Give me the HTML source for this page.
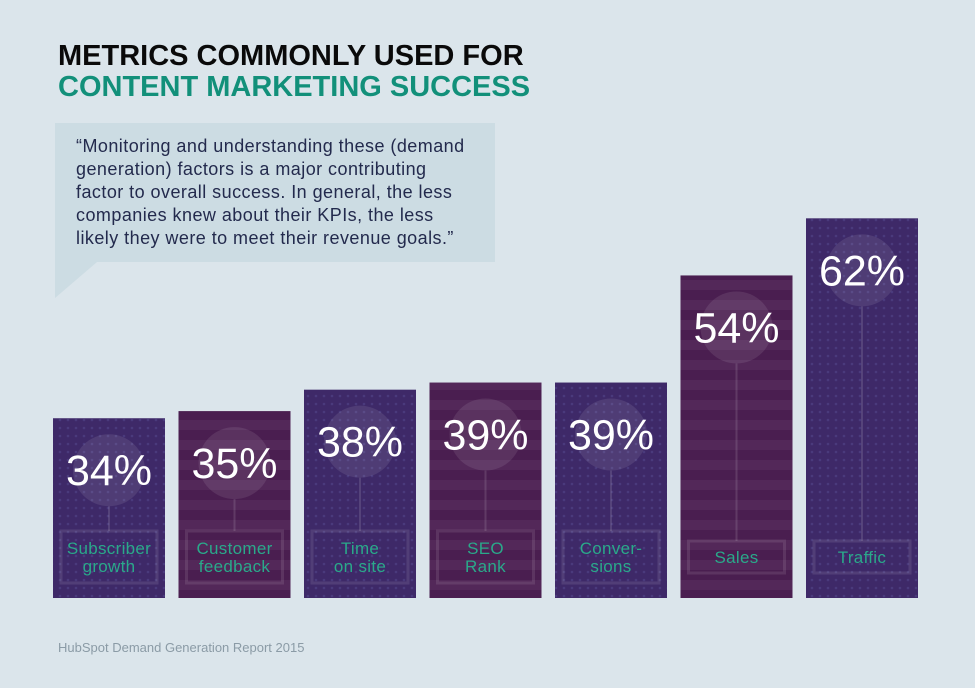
<!DOCTYPE html>
<html><head><meta charset="utf-8"><style>
body{margin:0;background:#dbe5eb;}
svg{display:block;font-family:"Liberation Sans",sans-serif;}
</style></head><body>
<svg id="chart" width="975" height="688" viewBox="0 0 975 688">
<defs>
<pattern id="dots" width="8" height="8" patternUnits="userSpaceOnUse"><rect width="8" height="8" fill="#3e2968"/><circle cx="4" cy="4" r="1.3" fill="#4a3a7c"/></pattern>
<pattern id="stripes" width="10" height="20" patternUnits="userSpaceOnUse"><rect width="10" height="20" fill="#4a1e50"/><rect width="10" height="10" fill="#532859"/></pattern>
</defs>
<rect width="975" height="688" fill="#dbe5eb"/>
<text x="58" y="65" font-size="29" font-weight="bold" fill="#0a0a0a">METRICS COMMONLY USED FOR</text>
<text x="58" y="96" font-size="29" font-weight="bold" fill="#12907a">CONTENT MARKETING SUCCESS</text>
<g>
<rect x="55" y="123" width="440" height="139" fill="#ccdce3"/>
<polygon points="55,262 97,262 55,298" fill="#ccdce3"/>
<g font-size="18" letter-spacing="0.45" fill="#232a4d">
<text x="76" y="152">“Monitoring and understanding these (demand</text>
<text x="76" y="175">generation) factors is a major contributing</text>
<text x="76" y="198">factor to overall success. In general, the less</text>
<text x="76" y="221">companies knew about their KPIs, the less</text>
<text x="76" y="244">likely they were to meet their revenue goals.”</text>
</g></g>
<g id="bars"></g>
<text x="58" y="652" font-size="13" fill="#8b9ba6">HubSpot Demand Generation Report 2015</text>
</svg>
<script>
const categories=[["Subscriber","growth"],["Customer","feedback"],["Time","on site"],["SEO","Rank"],["Conver-","sions"],["Sales"],["Traffic"]];
const values=[34,35,38,39,39,54,62];
const NS="http://www.w3.org/2000/svg";
const g=document.getElementById('bars');
const base=598;
function y(v){return 661-7.14*v;}
function x(i){return 53+i*125.5;}
function mk(t,a,p){const e=document.createElementNS(NS,t);for(const k in a)e.setAttribute(k,a[k]);p.appendChild(e);return e;}
values.forEach((v,i)=>{
 const bx=x(i),top=y(v),w=112,cx=bx+w/2;
 const grp=mk('g',{},g);
 
 
 mk('rect',{x:bx,y:top,width:w,height:base-top,fill:i%2?'url(#stripes)':'url(#dots)'},grp);
 const cy=top+52;
 mk('circle',{cx:cx,cy:cy,r:36,fill:'rgba(255,255,255,0.09)'},grp);
 const two=categories[i].length>1;
 const by=two?531:541, bh=two?52:32;
 mk('line',{x1:cx,y1:cy+36,x2:cx,y2:by,stroke:'rgba(255,255,255,0.12)','stroke-width':2},grp);
 mk('rect',{x:bx+8,y:by,width:w-16,height:bh,fill:'none',stroke:'rgba(255,255,255,0.1)','stroke-width':3},grp);
 const t=mk('text',{x:cx,y:cy+15,'text-anchor':'middle','font-size':43,fill:'#fff'},grp);
 t.textContent=v+'%';
 
 
 categories[i].forEach((s,j)=>{
  const l=mk('text',{x:cx,y:(two?554:563)+j*18,'text-anchor':'middle','font-size':17,'letter-spacing':0.3,fill:'#2aa98a'},grp);
  l.textContent=s;
  
  
 });
});
</script>
</body></html>
